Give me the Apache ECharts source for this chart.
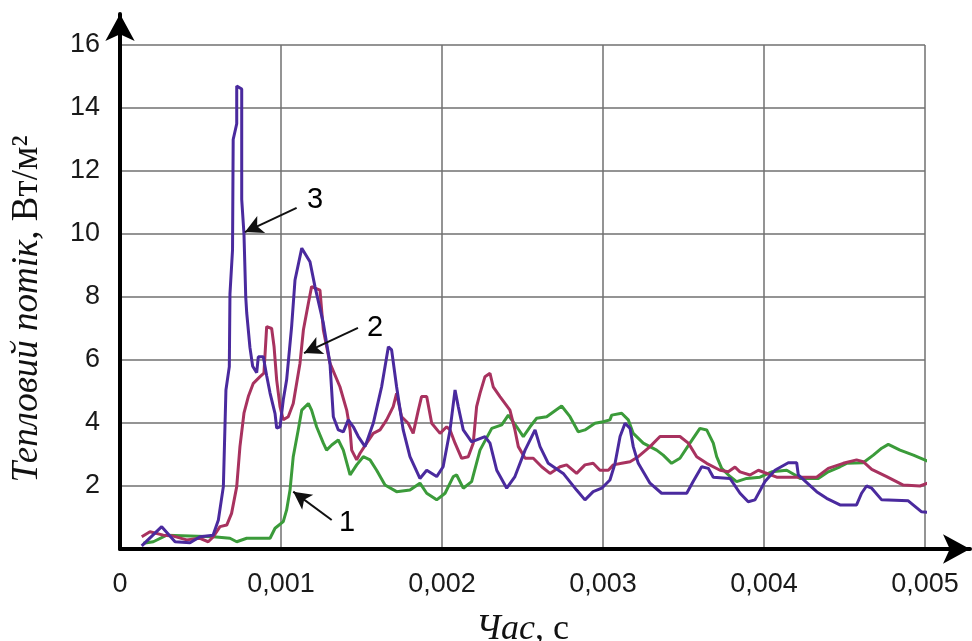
<!DOCTYPE html>
<html>
<head>
<meta charset="utf-8">
<script src="https://cdn.jsdelivr.net/npm/echarts@6/dist/echarts.min.js"></script>
<style>
html,body{margin:0;padding:0;background:#fff;}
#c{width:972px;height:641px;}
</style>
</head>
<body>
<div id="c"></div>
<script>
// ---- data (time in ms, heat flux in W/m2) ----
const xTickLabels = ['0', '0,001', '0,002', '0,003', '0,004', '0,005'];
const yTickLabels = ['', '2', '4', '6', '8', '10', '12', '14', '16'];

const s1T = [0.145,0.207,0.290,0.580,0.683,0.725,0.787,0.932,0.963,1.014,1.035,1.056,1.076,1.107,1.129,1.170,1.190,1.221,1.263,1.283,1.315,1.356,1.387,1.429,1.470,1.511,1.553,1.594,1.646,1.718,1.801,1.863,1.905,1.967,2.019,2.070,2.091,2.132,2.184,2.236,2.309,2.371,2.412,2.464,2.505,2.547,2.588,2.650,2.743,2.795,2.846,2.888,2.950,3.002,3.043,3.054,3.116,3.157,3.188,3.250,3.333,3.374,3.426,3.478,3.540,3.602,3.644,3.685,3.706,3.737,3.789,3.830,3.892,3.975,4.048,4.141,4.193,4.224,4.337,4.399,4.472,4.513,4.616,4.679,4.731,4.772,4.845,4.928,5.041];
const s1V = [0.18,0.23,0.44,0.39,0.34,0.23,0.34,0.34,0.66,0.87,1.24,1.87,2.93,3.78,4.41,4.62,4.41,3.88,3.36,3.14,3.30,3.46,3.14,2.35,2.67,2.93,2.83,2.50,2.03,1.82,1.87,2.09,1.77,1.56,1.77,2.30,2.35,1.93,2.14,3.14,3.83,3.94,4.25,3.88,3.57,3.88,4.15,4.20,4.54,4.20,3.72,3.78,3.99,4.04,4.10,4.25,4.31,4.10,3.67,3.36,3.14,2.98,2.72,2.88,3.36,3.83,3.78,3.36,2.93,2.56,2.30,2.14,2.24,2.28,2.45,2.50,2.35,2.24,2.24,2.45,2.61,2.72,2.74,2.98,3.20,3.32,3.14,2.98,2.74];

const s2T = [0.135,0.186,0.269,0.331,0.414,0.497,0.548,0.580,0.621,0.663,0.693,0.725,0.745,0.770,0.797,0.828,0.870,0.894,0.911,0.942,0.957,0.973,0.994,1.014,1.045,1.076,1.118,1.139,1.170,1.190,1.242,1.263,1.304,1.366,1.408,1.429,1.439,1.470,1.491,1.532,1.573,1.615,1.656,1.697,1.718,1.749,1.790,1.821,1.853,1.873,1.905,1.936,1.988,2.029,2.050,2.081,2.122,2.163,2.194,2.215,2.236,2.267,2.298,2.318,2.360,2.422,2.453,2.474,2.516,2.567,2.619,2.671,2.733,2.774,2.836,2.888,2.939,2.981,3.033,3.064,3.116,3.168,3.219,3.292,3.354,3.478,3.530,3.582,3.644,3.727,3.778,3.820,3.851,3.913,3.965,4.006,4.079,4.327,4.399,4.492,4.575,4.616,4.669,4.762,4.865,4.969,5.041];
const s2V = [0.39,0.55,0.44,0.41,0.29,0.34,0.23,0.39,0.71,0.76,1.13,1.98,3.25,4.31,4.84,5.26,5.47,5.58,7.06,7.00,6.42,5.37,4.52,4.10,4.20,4.62,5.90,6.95,7.80,8.33,8.22,6.95,5.90,5.15,4.41,3.78,3.14,2.83,3.04,3.36,3.67,3.78,4.10,4.52,4.94,4.20,3.99,3.67,4.41,4.84,4.84,3.99,3.67,3.88,3.78,3.36,2.88,2.93,3.36,4.52,4.94,5.47,5.58,5.15,4.84,4.41,3.78,3.25,2.88,2.88,2.61,2.40,2.61,2.67,2.40,2.67,2.72,2.50,2.50,2.67,2.72,2.77,2.93,3.25,3.57,3.57,3.36,2.93,2.72,2.50,2.45,2.60,2.45,2.35,2.50,2.42,2.28,2.28,2.56,2.72,2.83,2.77,2.53,2.30,2.03,2.00,2.14];

const s3T = [0.135,0.259,0.342,0.435,0.497,0.578,0.611,0.642,0.658,0.679,0.683,0.699,0.703,0.725,0.725,0.756,0.756,0.770,0.781,0.787,0.807,0.824,0.849,0.859,0.890,0.911,0.932,0.963,0.973,0.994,1.014,1.035,1.066,1.087,1.129,1.180,1.211,1.263,1.304,1.325,1.356,1.387,1.418,1.449,1.480,1.522,1.573,1.625,1.667,1.687,1.718,1.759,1.801,1.863,1.905,1.967,2.007,2.050,2.081,2.101,2.132,2.184,2.267,2.298,2.340,2.402,2.453,2.516,2.578,2.609,2.660,2.753,2.836,2.888,2.939,2.992,3.043,3.075,3.106,3.137,3.168,3.188,3.219,3.292,3.364,3.520,3.560,3.613,3.654,3.685,3.789,3.851,3.902,3.944,4.006,4.068,4.151,4.203,4.213,4.327,4.389,4.472,4.575,4.606,4.637,4.669,4.731,4.896,4.979,5.041];
const s3V = [0.10,0.71,0.23,0.20,0.39,0.44,0.92,1.98,5.05,5.79,8.10,9.50,13.0,13.5,14.7,14.6,11.1,10.0,8.00,7.50,6.40,5.80,5.60,6.10,6.10,5.50,4.95,4.30,3.84,3.88,4.73,5.37,7.06,8.54,9.55,9.12,8.33,7.17,5.90,4.20,3.78,3.72,4.10,3.88,3.57,3.25,3.99,5.15,6.42,6.32,5.15,3.78,2.93,2.24,2.50,2.30,2.61,3.78,5.05,4.52,3.78,3.40,3.57,3.36,2.50,1.93,2.30,3.14,3.78,3.25,2.72,2.40,1.87,1.56,1.82,1.93,2.19,2.72,3.57,3.99,3.83,3.25,2.72,2.09,1.77,1.77,2.14,2.61,2.56,2.28,2.24,1.77,1.50,1.56,2.14,2.50,2.74,2.74,2.35,1.82,1.61,1.40,1.40,1.77,2.00,1.93,1.56,1.53,1.18,1.16];

// annotation labels and arrows (time ms, value)
const labelText = ['3', '2', '1'];
const labelT = [1.211, 1.584, 1.410];
const labelV = [11.08, 7.02, 0.83];
const arrowFromT = [1.097, 1.478, 1.315];
const arrowFromV = [10.83, 7.02, 0.92];
const arrowToT = [0.776, 1.143, 1.076];
const arrowToV = [10.06, 6.22, 1.82];

const toPairs = (t, v) => t.map((x, i) => [x / 1000, v[i]]);

const chart = echarts.init(document.getElementById('c'), null, {renderer: 'canvas'});

const gridLine = {show: true, lineStyle: {color: '#707070', width: 1.5}};
const tickFont = {fontFamily: 'Liberation Sans, Arial, sans-serif', fontSize: 27, color: '#1a1a1a'};
const serif = 'Liberation Serif, Times New Roman, serif';

const option = {
  animation: false,
  backgroundColor: '#fff',
  grid: [
    {left: 120, right: 47, top: 45, bottom: 92, containLabel: false, outerBoundsMode: 'none'},
    {left: 120, right: 2, top: 14, bottom: 92, containLabel: false, outerBoundsMode: 'none'}
  ],
  xAxis: [
    {
      gridIndex: 0, type: 'value', min: 0, max: 0.005, interval: 0.001,
      axisLine: {show: false}, axisTick: {show: false},
      splitLine: gridLine,
      axisLabel: Object.assign({
        margin: 22,
        formatter: (v) => {
          const i = Math.round(v / 0.001);
          return i === 0 ? '{z|' + xTickLabels[0] + '}' : xTickLabels[i];
        },
        rich: {z: {fontFamily: 'Liberation Sans, Arial, sans-serif', fontSize: 27, color: '#1a1a1a', padding: [0, 0, 14, 0]}}
      }, tickFont),
      name: '{i|Час}{n|, с}',
      nameLocation: 'middle',
      nameGap: 63,
      nameTextStyle: {
        rich: {
          i: {fontFamily: serif, fontStyle: 'italic', fontSize: 36, color: '#111'},
          n: {fontFamily: serif, fontSize: 36, color: '#111'}
        }
      }
    },
    {
      gridIndex: 1, type: 'value', min: 0, max: 1,
      axisLine: {show: true, symbol: ['none', 'arrow'], symbolSize: [22, 27], lineStyle: {color: '#000', width: 4}},
      axisTick: {show: false}, axisLabel: {show: false}, splitLine: {show: false}
    }
  ],
  yAxis: [
    {
      gridIndex: 0, type: 'value', min: 0, max: 16, interval: 2,
      axisLine: {show: false}, axisTick: {show: false},
      splitLine: gridLine,
      axisLabel: Object.assign({
        margin: 20,
        formatter: (v) => yTickLabels[Math.round(v / 2)]
      }, tickFont),
      name: '{i|Тепловий потік,}{n| Вт/м²}',
      nameLocation: 'middle',
      nameGap: 74,
      nameRotate: 90,
      nameTextStyle: {
        padding: [0, 24, 0, 0],
        rich: {
          i: {fontFamily: serif, fontStyle: 'italic', fontSize: 37, color: '#111'},
          n: {fontFamily: serif, fontSize: 37, color: '#111'}
        }
      }
    },
    {
      gridIndex: 1, type: 'value', min: 0, max: 1,
      axisLine: {show: true, symbol: ['none', 'arrow'], symbolSize: [22, 27], lineStyle: {color: '#000', width: 4}},
      axisTick: {show: false}, axisLabel: {show: false}, splitLine: {show: false}
    }
  ],
  series: [
    {
      name: '1', type: 'line', xAxisIndex: 0, yAxisIndex: 0, clip: false,
      data: toPairs(s1T, s1V), showSymbol: false, symbol: 'none',
      lineStyle: {color: '#3b9b3a', width: 3}
    },
    {
      name: '2', type: 'line', xAxisIndex: 0, yAxisIndex: 0, clip: false,
      data: toPairs(s2T, s2V), showSymbol: false, symbol: 'none',
      lineStyle: {color: '#a8325f', width: 3}
    },
    {
      name: '3', type: 'line', xAxisIndex: 0, yAxisIndex: 0, clip: false,
      data: toPairs(s3T, s3V), showSymbol: false, symbol: 'none',
      lineStyle: {color: '#4a2a9e', width: 3}
    },
    {
      name: 'labels', type: 'scatter', xAxisIndex: 0, yAxisIndex: 0,
      symbolSize: 1, itemStyle: {color: 'rgba(0,0,0,0)'},
      emphasis: {disabled: true},
      data: labelText.map((s, i) => [labelT[i] / 1000, labelV[i], s]),
      label: {
        show: true, position: 'inside', formatter: (p) => p.data[2],
        fontFamily: 'Liberation Sans, Arial, sans-serif', fontSize: 29, color: '#000',
        textBorderWidth: 0, opacity: 1
      },
      markLine: {
        silent: true, animation: false,
        symbol: ['none', 'arrow'], symbolSize: [14, 18],
        lineStyle: {color: '#111', width: 2, type: 'solid'},
        label: {show: false},
        emphasis: {disabled: true},
        data: arrowFromT.map((t, i) => [
          {coord: [t / 1000, arrowFromV[i]]},
          {coord: [arrowToT[i] / 1000, arrowToV[i]]}
        ])
      }
    }
  ]
};
chart.setOption(option);
</script>
</body>
</html>
